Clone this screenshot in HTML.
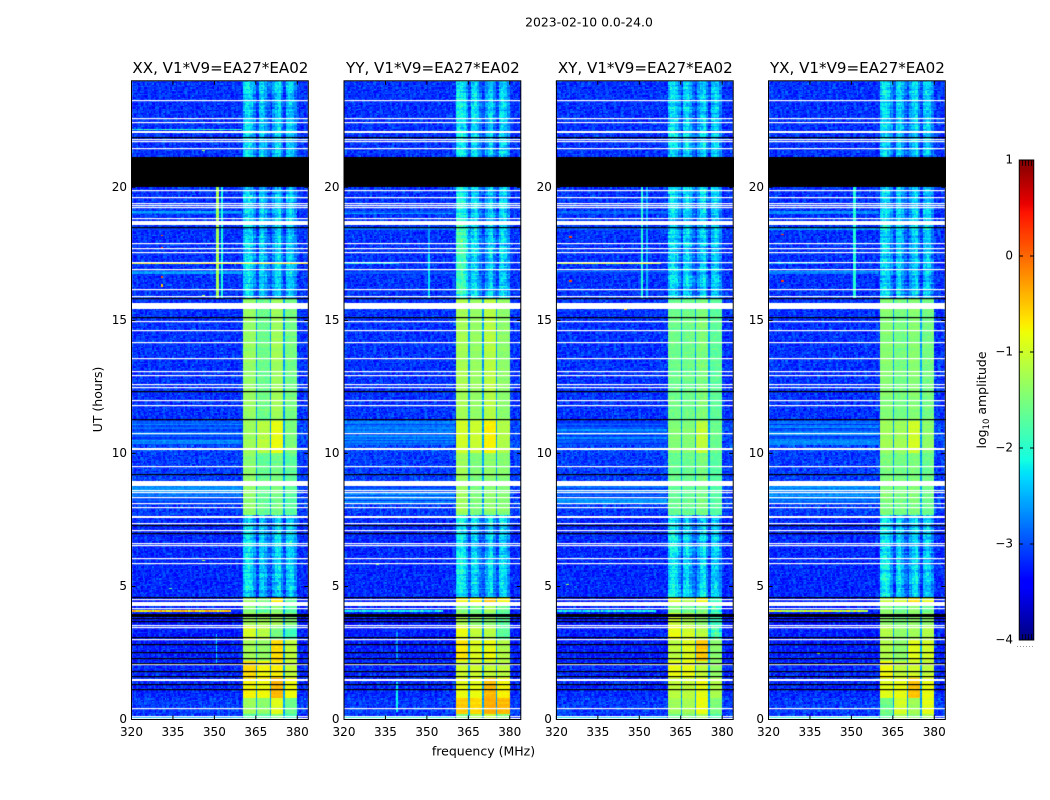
<!DOCTYPE html>
<html lang="en">
<head>
<meta charset="utf-8">
<title>2023-02-10 amplitude waterfall</title>
<style>
html,body{margin:0;padding:0;background:#fff;}
#figure{position:relative;width:1050px;height:800px;overflow:hidden;background:#fff;}
canvas{position:absolute;display:block;}
svg{position:absolute;left:0;top:0;}
text{font-family:"DejaVu Sans","Liberation Sans",sans-serif;fill:#000;}
</style>
</head>
<body>
<div id="figure">
<svg id="overlay" width="1050" height="800" viewBox="0 0 1050 800">
  <text x="589" y="26.5" text-anchor="middle" font-size="12.4">2023-02-10 0.0-24.0</text>
  <text x="483.5" y="755.5" text-anchor="middle" font-size="12.5">frequency (MHz)</text>
  <text transform="translate(102,399.5) rotate(-90)" text-anchor="middle" font-size="12.5">UT (hours)</text>
  <text transform="translate(986,400) rotate(-90)" text-anchor="middle" font-size="12.5">log<tspan font-size="8.5" dy="3">10</tspan><tspan dy="-3"> amplitude</tspan></text>
</svg>
</div>
<script>
// ---------- chart data ----------
const panelNames = ['XX', 'YY', 'XY', 'YX'];
const panelTitles = ['XX, V1*V9=EA27*EA02', 'YY, V1*V9=EA27*EA02', 'XY, V1*V9=EA27*EA02', 'YX, V1*V9=EA27*EA02'];
const xTickValues = [320, 335, 350, 365, 380];
const yTickValues = [0, 5, 10, 15, 20];
const colorbarTicks = [1, 0, -1, -2, -3, -4];

// epochs of UT hours, each with one log10 level for each of the 4 spectral windows
const epochStarts = [0, 0.2, 0.8, 1.55, 2.2, 3.0, 3.55, 4.0, 4.4, 4.6, 7.7, 10.0, 11.2, 15.8];
const epochBackground = [-3.15, -3.1, -3.2, -3.2, -3.25, -3.25, -3.3, -3.25, -3.25, -3.2, -3.1, -3.05, -3.15, -3.15];
const levelsXX = [[-1.8,-1.8,-1.5,-1.9],[-1.3,-1.4,-0.9,-1.6],[-0.75,-0.8,-0.42,-0.8],[-0.62,-0.8,-0.75,-1.1],[-1.25,-1.35,-0.62,-1.1],[-0.95,-1.15,-1.5,-1.85],[-1.3,-1.3,-1.3,-1.5],[-1.45,-1.7,-1.45,-1.75],[-1.3,-1.5,-0.7,-1.7],[-2.45,-2.6,-2.5,-2.55],[-1.4,-1.65,-1.55,-1.7],[-1.3,-1.15,-0.85,-1.5],[-1.35,-1.6,-1.3,-1.55],[-2.5,-2.6,-2.55,-2.6]];
const levelsYY = [[-1.5,-1.3,-1.1,-1.5],[-0.55,-0.62,-0.38,-0.45],[-0.85,-0.85,-0.45,-0.75],[-1.0,-1.0,-1.05,-1.1],[-0.7,-0.95,-0.85,-1.2],[-0.85,-1.1,-1.15,-1.7],[-1.2,-1.4,-1.4,-1.7],[-1.5,-1.6,-1.3,-1.7],[-0.75,-0.75,-0.5,-0.75],[-2.4,-2.55,-2.5,-2.55],[-1.3,-1.5,-1.4,-1.45],[-1.0,-1.05,-0.75,-1.2],[-1.25,-1.35,-1.15,-1.4],[-2.4,-2.5,-2.55,-2.55]];
const levelsXY = [[-1.6,-1.5,-1.3,-1.8],[-1.3,-1.25,-0.85,-1.5],[-1.1,-1.1,-0.85,-1.2],[-0.85,-0.85,-1.1,-1.4],[-1.1,-0.9,-0.5,-1.4],[-0.85,-1.0,-1.15,-2.0],[-1.0,-1.2,-1.4,-1.9],[-1.5,-1.6,-1.5,-2.0],[-1.0,-1.2,-0.8,-1.9],[-2.4,-2.55,-2.5,-2.6],[-1.65,-1.65,-1.55,-1.75],[-1.45,-1.45,-1.1,-1.6],[-1.6,-1.6,-1.5,-1.7],[-2.5,-2.55,-2.55,-2.6]];
const levelsYX = [[-1.7,-1.3,-1.5,-1.3],[-1.6,-1.0,-1.3,-0.9],[-0.9,-0.85,-0.5,-0.85],[-0.8,-1.1,-1.0,-1.1],[-1.2,-1.4,-0.9,-1.0],[-1.2,-1.4,-1.3,-1.2],[-1.4,-1.5,-1.4,-1.4],[-1.4,-1.6,-1.4,-1.6],[-1.1,-1.0,-0.65,-0.9],[-2.4,-2.55,-2.5,-2.6],[-1.5,-1.55,-1.5,-1.6],[-1.3,-1.3,-1.0,-1.4],[-1.45,-1.55,-1.45,-1.55],[-2.5,-2.55,-2.55,-2.6]];
const panelLevels = [levelsXX, levelsYY, levelsXY, levelsYX];

// per-MHz offset across 360..380 MHz during the faint epochs
const faintProfile = [0.05,0.2,0.25,0.1,-0.2,-0.5,0.15,0.25,0.0,-0.3,-0.5,-0.1,0.15,0.25,-0.2,-0.5,0.15,0.25,0.15,-0.15];

// hand-entered speckle amplitudes (log10 units) looked up per cell
const speckle = [-0.31,0.12,0.38,-0.07,0.22,-0.41,0.05,0.29,-0.18,0.44,-0.26,0.09,-0.36,0.17,0.33,-0.12,-0.45,0.26,0.02,-0.22,0.41,-0.03,0.15,-0.33,0.36,-0.09,0.21,-0.28,0.07,0.47,-0.16,-0.39,0.11,0.31,-0.24,0.03,-0.43,0.24,0.18,-0.05,0.35,-0.2,-0.34,0.08,0.42,-0.14,0.27,-0.38,0.13,-0.01,0.32,-0.27,0.19,-0.46,0.06,0.39,-0.11,0.23,-0.3,0.16,0.45,-0.21,-0.04,0.28,-0.37,0.1,0.34,-0.15,-0.42,0.2,0.04,-0.25,0.37,-0.08,0.14,-0.32,0.25,0.43,-0.19,-0.02,0.3,-0.4,0.09,-0.13,0.4,-0.23,0.17,-0.35,0.01,0.26,-0.06,0.46,-0.29,0.11,-0.17,0.33,-0.44,0.22,0.07,-0.1,0.36];

// flagged rows, UT hours
const whiteLines = [23.28,22.6,22.46,21.81,21.72,21.47,19.88,19.65,19.41,19.34,19.26,17.89,17.71,17.58,17.2,16.92,16.17,15.93,14.98,14.63,14.18,13.58,12.95,12.61,12.51,12.0,11.82,10.76,9.52,8.63,8.53,8.35,8.13,8.0,7.4,7.12,6.62,6.55,6.08,5.87,4.52,4.2,3.55,3.49,3.02,2.07,0.44,0.14];
const whiteBands = [[22.04,22.1],[18.8,18.86],[18.59,18.74],[15.43,15.65],[13.04,13.1],[10.14,10.22],[8.78,8.97],[7.59,7.66],[4.28,4.43],[1.43,1.52],[0,0.04]];
const blackLines = [21.87,18.52,15.83,15.12,12.35,11.29,9.22,7.29,7.0,4.62,3.8,3.7,3.11,2.83,2.55,2.32,2.13,1.83,1.65,1.32,1.16];
const blackBands = [[20.02,21.13],[3.87,3.97]];

// [panel, first hour, last hour, first MHz, last MHz, level]
const rfiVertical = [[0,15.85,20,350.6,351.6,-1.25],[0,15.85,20,352.6,353,-2.1],[1,15.85,17.5,350.6,351.2,-2.25],[1,17.5,18.6,350.6,351.2,-2.6],[2,15.85,20,350.6,351.6,-2.05],[2,15.85,20,352.6,353,-2.5],[3,15.85,20,350.6,351.6,-2.05],[0,2.1,3.2,350.6,351.1,-2.3],[1,0.3,1.4,339,339.5,-2.2],[1,2.2,3.3,339,339.5,-2.6]];
// [panel, hour, first MHz, last MHz, level]
const hotLines = [[0,17.1,320,384,-0.75],[0,22.2,320,360,-2.0],[0,4.06,320,356,-0.55],[1,17.1,320,340,-2.2],[1,4.06,320,356,-2.2],[2,17.1,320,358,-1.0],[2,4.06,320,356,-2.2],[3,4.06,320,356,-1.1],[3,17.1,320,340,-2.5]];
// [first hour, last hour, level] background brightening shared by all panels
const streakBands = [[8.08,8.78,-2.85],[10.3,11.2,-2.9],[0.05,0.13,-2.25],[19.0,19.12,-2.85],[18.4,18.46,-2.85],[16.75,16.85,-2.85],[21.98,22.02,-2.85]];
// [panel, first hour, last hour, first MHz, last MHz, added log10]
const patches = [[1,16.0,18.8,360.5,366,0.35],[1,18.8,21,360.5,366,0.1]];
// [panel, hour, MHz, level]
const hotSpots = [[0,21.4,346,-1.2],[0,18.7,330,0.2],[0,18.2,331,0.1],[0,17.75,331,0.1],[0,16.6,331,0.1],[0,16.3,331,-0.5],[0,15.95,346,-1.2],[0,10.05,346,-1.3],[0,6.0,346,-1.3],[0,4.95,334,-1.6],[0,0.9,334,-1.3],[1,5.85,332,-1.4],[1,0.9,334,-1.6],[2,18.6,325,0.2],[2,18.1,325,0.2],[2,16.5,325,0.2],[2,15.9,345,0.1],[2,15.45,345,-0.5],[2,5.1,324,-1.3],[3,18.25,325,0.2],[3,16.5,325,0.2],[3,5.4,338,-1.3],[3,0.8,325,-1.3],[3,2.5,338,-1.2]];

// ---------- axis functions ----------
const panelLeft = [131.5, 344, 556.4, 768.5];
const panelWidth = 176.8;
const axisTop = 80.8, axisBottom = 719.5;
const hourMax = 24, freqMin = 320, freqMax = 384, channelMHz = 0.5, rowHours = 0.05;
const nChannels = 128, nRows = 480;
function xScale(panel, mhz) { return panelLeft[panel] + (mhz - freqMin) / (freqMax - freqMin) * panelWidth; }
function yScale(hour) { return axisBottom - hour / hourMax * (axisBottom - axisTop); }
function segment(stops, t) {
  for (let i = 1; i < stops.length; i++) {
    if (t <= stops[i][0]) {
      const a = stops[i - 1], b = stops[i];
      return a[1] + (b[1] - a[1]) * (t - a[0]) / (b[0] - a[0]);
    }
  }
  return stops[stops.length - 1][1];
}
const jetR = [[0,0],[0.35,0],[0.66,1],[0.89,1],[1,0.5]];
const jetG = [[0,0],[0.125,0],[0.375,1],[0.64,1],[0.91,0],[1,0]];
const jetB = [[0,0.5],[0.11,1],[0.34,1],[0.65,0],[1,0]];
function colorScale(logAmp) {
  const t = Math.max(0, Math.min(1, (logAmp + 4) / 5));
  return [segment(jetR, t) * 255, segment(jetG, t) * 255, segment(jetB, t) * 255];
}
function grainAt(panel, r, c) {
  const n = speckle.length;
  return speckle[(c * 7 + r * 13 + panel * 19) % n] * 0.6 + speckle[(r * r + c * c * 3 + r * c + panel * 5) % n] * 0.6;
}
function epochOf(hour) {
  let e = 0;
  for (let i = 0; i < epochStarts.length; i++) if (hour >= epochStarts[i]) e = i;
  return e;
}
function cellValue(panel, r, c) {
  const hour = (r + 0.5) * rowHours, mhz = freqMin + (c + 0.5) * channelMHz;
  const e = epochOf(hour), g = grainAt(panel, r, c);
  const rowG = speckle[(r * 23 + panel) % speckle.length];
  let v = epochBackground[e] + g * 0.75;
  for (const s of streakBands) if (hour >= s[0] && hour < s[1] && mhz < 360) v = s[2] + g * 0.35 + rowG * 0.6;
  if (mhz >= 360.4 && mhz < 379.9) {
    const b = Math.min(3, Math.floor((mhz - 360) / 5));
    const lvl = panelLevels[panel][e][b];
    if (lvl < -1.95) {
      v = lvl + faintProfile[Math.floor(mhz - 360)] + g * 0.65 + rowG * 0.35;
    } else {
      v = lvl + g * (lvl < -1.45 ? 0.3 : 0.15) + rowG * 0.12;
      const offset = (mhz - 360) % 5;
      if (mhz > 361 && offset < 0.5) v = -2.6 + g * 0.3;
    }
  }
  for (const p of patches) if (p[0] === panel && hour >= p[1] && hour < p[2] && mhz >= p[3] && mhz < p[4]) v += p[5];
  for (const l of rfiVertical) if (l[0] === panel && hour >= l[1] && hour < l[2] && mhz >= l[3] && mhz < l[4]) v = l[5] + g * 0.1;
  for (const l of hotLines) if (l[0] === panel && Math.abs(hour - l[1]) <= rowHours / 2 && mhz >= l[2] && mhz < l[3]) v = l[4] + g * 0.9;
  for (const s of hotSpots) if (s[0] === panel && Math.abs(hour - s[1]) <= rowHours / 2 && Math.abs(mhz - s[2]) <= channelMHz / 2) v = s[3];
  return v;
}

// ---------- draw heatmaps ----------
const figure = document.getElementById('figure');
const overlay = document.getElementById('overlay');
const SVGNS = 'http://www.w3.org/2000/svg';
function svgEl(tag, attrs) {
  const el = document.createElementNS(SVGNS, tag);
  for (const k in attrs) el.setAttribute(k, attrs[k]);
  return el;
}
function flagRect(ctx, ox, oy, w, hourFrom, hourTo, color) {
  const y0 = Math.round(yScale(hourTo)) - oy, y1 = Math.round(yScale(hourFrom)) - oy;
  ctx.fillStyle = color;
  ctx.fillRect(0, y0, w, Math.max(1.2, y1 - y0));
}
panelNames.forEach(function (name, panel) {
  const left = Math.floor(panelLeft[panel]);
  const top = Math.floor(axisTop);
  const w = Math.ceil(panelLeft[panel] + panelWidth) - left;
  const h = Math.ceil(axisBottom) - top;
  const canvas = document.createElement('canvas');
  canvas.width = w;
  canvas.height = h;
  canvas.style.left = left + 'px';
  canvas.style.top = top + 'px';
  
  
  figure.insertBefore(canvas, overlay);
  const off = document.createElement('canvas');
  off.width = nChannels;
  off.height = nRows;
  const octx = off.getContext('2d');
  const img = octx.createImageData(nChannels, nRows);
  for (let r = 0; r < nRows; r++) {
    for (let c = 0; c < nChannels; c++) {
      const rgb = colorScale(cellValue(panel, r, c));
      const i = ((nRows - 1 - r) * nChannels + c) * 4;
      img.data[i] = rgb[0];
      img.data[i + 1] = rgb[1];
      img.data[i + 2] = rgb[2];
      img.data[i + 3] = 255;
    }
  }
  octx.putImageData(img, 0, 0);
  const ctx = canvas.getContext('2d');
  ctx.imageSmoothingEnabled = false;
  ctx.drawImage(off, 0, 0, nChannels, nRows, panelLeft[panel] - left, axisTop - top, panelWidth, axisBottom - axisTop);
  whiteLines.forEach(function (t) { flagRect(ctx, left, top, w, t, t, '#fff'); });
  whiteBands.forEach(function (b) { flagRect(ctx, left, top, w, b[0], b[1], '#fff'); });
  blackLines.forEach(function (t) { flagRect(ctx, left, top, w, t, t, '#000'); });
  blackBands.forEach(function (b) { flagRect(ctx, left, top, w, b[0], b[1], '#000'); });

  // ---------- axes ----------
  const g = svgEl('g', {});
  
  
  overlay.appendChild(g);
  const x0 = panelLeft[panel], x1 = x0 + panelWidth;
  const title = svgEl('text', { x: (x0 + x1) / 2 + 0.5, y: 73, 'text-anchor': 'middle', 'font-size': 15.1 });
  
  
  title.textContent = panelTitles[panel];
  g.appendChild(title);
  xTickValues.forEach(function (v) {
    const x = xScale(panel, v);
    const tick = svgEl('path', { d: 'M' + x + ' ' + axisBottom + 'v-4M' + x + ' ' + axisTop + 'v4', stroke: '#000', 'stroke-width': 1, fill: 'none' });
    
    
    g.appendChild(tick);
    const label = svgEl('text', { x: x, y: 736, 'text-anchor': 'middle', 'font-size': 12 });
    
    
    label.textContent = v;
    g.appendChild(label);
  });
  yTickValues.forEach(function (v) {
    const y = yScale(v);
    const tick = svgEl('path', { d: 'M' + x0 + ' ' + y + 'h4M' + x1 + ' ' + y + 'h-4', stroke: '#000', 'stroke-width': 1, fill: 'none' });
    
    
    g.appendChild(tick);
    const label = svgEl('text', { x: x0 - 4.5, y: y + 3.5, 'text-anchor': 'end', 'font-size': 12 });
    
    
    label.textContent = v;
    g.appendChild(label);
  });
  const frame = svgEl('rect', { x: x0, y: axisTop, width: panelWidth, height: axisBottom - axisTop, fill: 'none', stroke: '#000', 'stroke-width': 1 });
  
  
  g.appendChild(frame);
});

// ---------- colorbar ----------
const cbLeft = 1019, cbTop = 160, cbWidth = 15, cbHeight = 480;
function cbY(v) { return cbTop + (1 - v) / 5 * cbHeight; }
const cbCanvas = document.createElement('canvas');
cbCanvas.width = cbWidth;
cbCanvas.height = cbHeight;
cbCanvas.style.left = cbLeft + 'px';
cbCanvas.style.top = cbTop + 'px';


figure.insertBefore(cbCanvas, overlay);
const cbCtx = cbCanvas.getContext('2d');
for (let y = 0; y < cbHeight; y++) {
  const rgb = colorScale(1 - (y + 0.5) / cbHeight * 5);
  cbCtx.fillStyle = 'rgb(' + Math.round(rgb[0]) + ',' + Math.round(rgb[1]) + ',' + Math.round(rgb[2]) + ')';
  cbCtx.fillRect(0, y, cbWidth, 1);
}
colorbarTicks.forEach(function (v) {
  const y = cbY(v);
  const tick = svgEl('path', { d: 'M' + cbLeft + ' ' + y + 'h4M' + (cbLeft + cbWidth) + ' ' + y + 'h-4', stroke: '#000', 'stroke-width': 1, fill: 'none' });
  
  
  overlay.appendChild(tick);
  const label = svgEl('text', { x: cbLeft - 6, y: y + 3.5, 'text-anchor': 'end', 'font-size': 12 });
  
  
  label.textContent = (v < 0 ? '\u2212' : '') + Math.abs(v);
  overlay.appendChild(label);
});
const cbMinor = svgEl('path', { d: 'M1022.5 160v6M1025.5 160v6M1028.5 160v6M1031.5 160v6M1022.5 640v-6M1025.5 640v-6M1028.5 640v-6M1031.5 640v-6', stroke: '#000', 'stroke-width': 1, fill: 'none', opacity: 0.75 });


overlay.appendChild(cbMinor);
const cbFrame = svgEl('rect', { x: cbLeft + 0.25, y: cbTop, width: cbWidth - 0.5, height: cbHeight, fill: 'none', stroke: '#000', 'stroke-width': 1 });


overlay.appendChild(cbFrame);
const cbDots = svgEl('path', { d: 'M1017 646.5H1035', stroke: '#999', 'stroke-width': 1, 'stroke-dasharray': '1 2', fill: 'none' });


overlay.appendChild(cbDots);
</script>
</body>
</html>
